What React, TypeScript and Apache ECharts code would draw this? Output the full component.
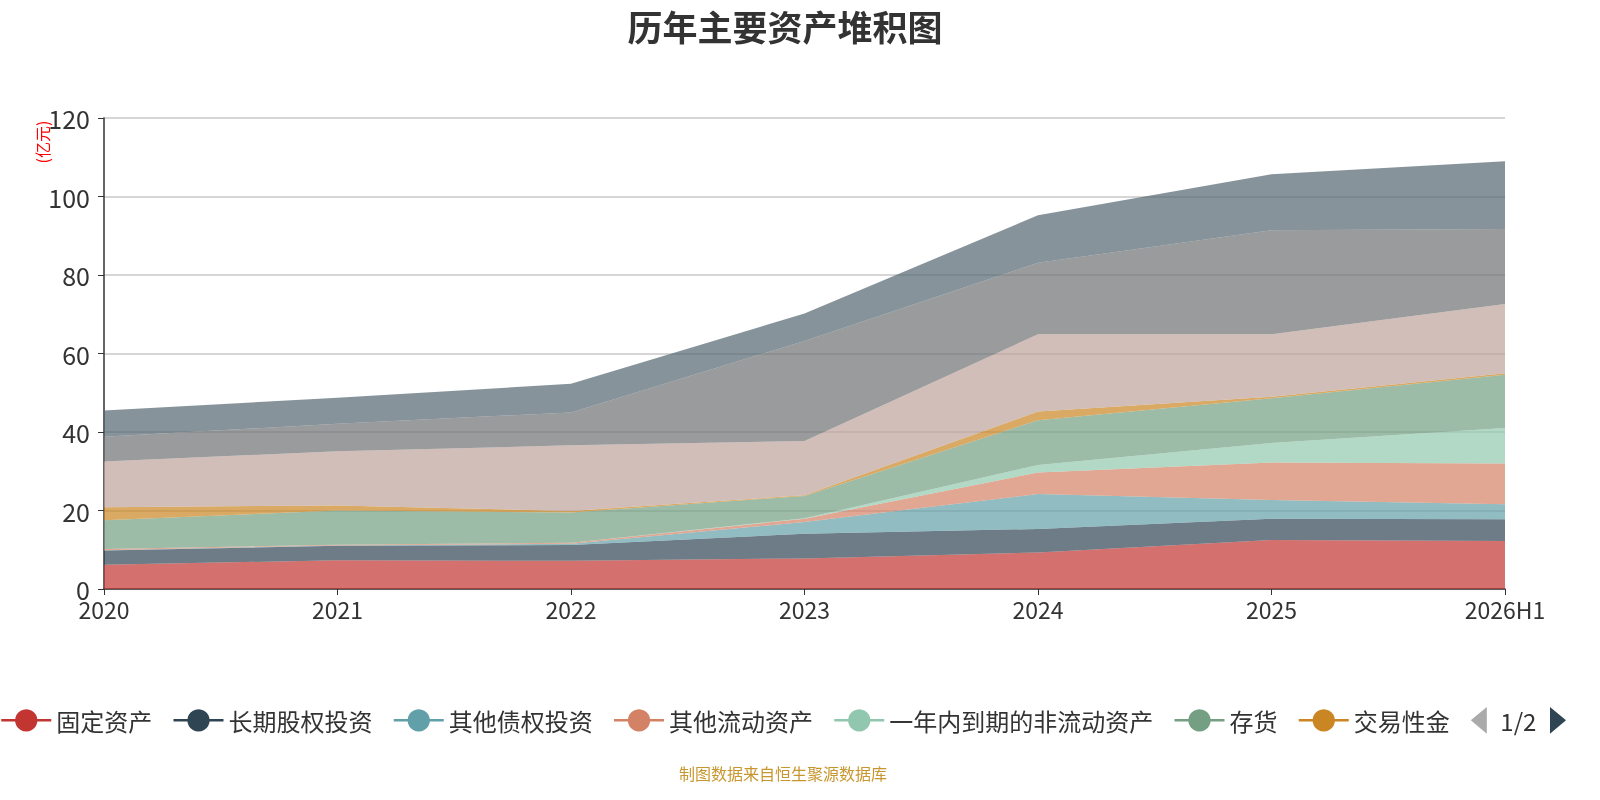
import React, { useEffect, useRef } from "react";
import * as echarts from "echarts";

const categories = ["2020", "2021", "2022", "2023", "2024", "2025", "2026H1"];
const seriesNames = [
  "固定资产",
  "长期股权投资",
  "其他债权投资",
  "其他流动资产",
  "一年内到期的非流动资产",
  "存货",
  "交易性金",
  "应收账款",
  "其他非流动金融资产",
  "货币资金",
];
const fixedAssets = [6.2, 7.3, 7.2, 7.8, 9.3, 12.5, 12.2];
const longTermEquity = [3.6, 3.7, 4.0, 6.3, 6.0, 5.4, 5.6];
const otherDebtInvest = [0.1, 0.1, 0.3, 3.0, 8.9, 4.8, 3.8];
const otherCurrent = [0.3, 0.2, 0.3, 0.8, 5.5, 9.5, 10.4];
const nonCurrentDue = [0, 0, 0, 0.1, 1.9, 5.0, 9.0];
const inventory = [7.3, 8.7, 7.7, 5.7, 11.4, 11.4, 13.6];
const tradingFinancial = [3.3, 1.3, 0.4, 0.2, 2.2, 0.4, 0.4];
const receivables = [11.7, 13.8, 16.7, 13.8, 19.7, 15.9, 17.6];
const otherNonCurrentFin = [6.3, 7.0, 8.4, 25.5, 18.2, 26.5, 19.1];
const cash = [6.7, 6.6, 7.3, 7.0, 12.1, 14.3, 17.3];
const yTicks = [0, 20, 40, 60, 80, 100, 120];

const seriesValues = [
  fixedAssets,
  longTermEquity,
  otherDebtInvest,
  otherCurrent,
  nonCurrentDue,
  inventory,
  tradingFinancial,
  receivables,
  otherNonCurrentFin,
  cash,
];

const palette = [
  "#c23531",
  "#2f4554",
  "#61a0a8",
  "#d48265",
  "#91c7ae",
  "#749f83",
  "#ca8622",
  "#bda29a",
  "#6e7074",
  "#546570",
];

const FONT = '"Noto Sans CJK SC", "Noto Sans", sans-serif';

export default function App() {
  const ref = useRef<HTMLDivElement>(null);

  useEffect(() => {
    if (!ref.current) return;
    const chart = echarts.init(ref.current, null, { renderer: "svg" });
    const option = {
      animation: false,
      color: palette,
      textStyle: { fontFamily: FONT },
      grid: { left: 104, right: 95, top: 118, bottom: 211 },
      legend: {
        type: "scroll",
        orient: "horizontal",
        left: 0,
        width: 1566,
        top: 702,
        padding: [5, 0, 5, 0],
        itemWidth: 50,
        itemHeight: 28,
        itemGap: 20,
        textStyle: { fontSize: 24, color: "#333", fontFamily: FONT },
        lineStyle: { width: 2.5, opacity: 1 },
        itemStyle: { opacity: 1 },
        pageIconSize: [16, 30],
        pageButtonItemGap: 3,
        pageButtonGap: 14,
        pageIconColor: "#2f4554",
        pageIconInactiveColor: "#aaa",
        pageTextStyle: { fontSize: 24, color: "#333", fontFamily: FONT },
        data: seriesNames,
      },
      xAxis: {
        type: "category",
        boundaryGap: false,
        data: categories,
        axisLine: { lineStyle: { color: "#333", width: 1.5 } },
        axisTick: { alignWithLabel: true, lineStyle: { color: "#333" }, length: 6 },
        axisLabel: { fontSize: 23, color: "#333", fontFamily: FONT, margin: 8 },
      },
      yAxis: {
        type: "value",
        min: yTicks[0],
        max: yTicks[yTicks.length - 1],
        interval: 20,
        axisLine: { show: true, lineStyle: { color: "#333", width: 1.5 } },
        axisTick: { show: true, lineStyle: { color: "#333" }, length: 6 },
        axisLabel: { fontSize: 25, color: "#333", fontFamily: FONT, margin: 14 },
        splitLine: { show: true, lineStyle: { color: "#c8c8c8", width: 1.5 } },
      },
      graphic: [
        {
          type: "text",
          x: 785,
          y: 25,
          style: {
            text: "历年主要资产堆积图",
            fill: "#333",
            font: `bold 35px ${FONT}`,
            align: "center",
            verticalAlign: "middle",
          },
        },
        {
          type: "text",
          x: 42,
          y: 142,
          rotation: Math.PI / 2,
          style: {
            text: "(亿元)",
            fill: "#ff0000",
            font: `16px ${FONT}`,
            align: "center",
            verticalAlign: "middle",
          },
        },
        {
          type: "text",
          x: 783,
          y: 773,
          style: {
            text: "制图数据来自恒生聚源数据库",
            fill: "#c8962e",
            font: `16px ${FONT}`,
            align: "center",
            verticalAlign: "middle",
          },
        },
      ],
      series: seriesNames.map((name, i) => ({
        name,
        type: "line",
        stack: "total",
        symbol: "circle",
        showSymbol: false,
        lineStyle: { width: 0, opacity: 0 },
        areaStyle: { opacity: 0.7 },
        emphasis: { disabled: true },
        data: seriesValues[i],
      })),
    };
    chart.setOption(option as any);
    return () => chart.dispose();
  }, []);

  return (
    <div
      ref={ref}
      style={{ position: "fixed", left: 0, top: 0, width: 1600, height: 800 }}
    />
  );
}
